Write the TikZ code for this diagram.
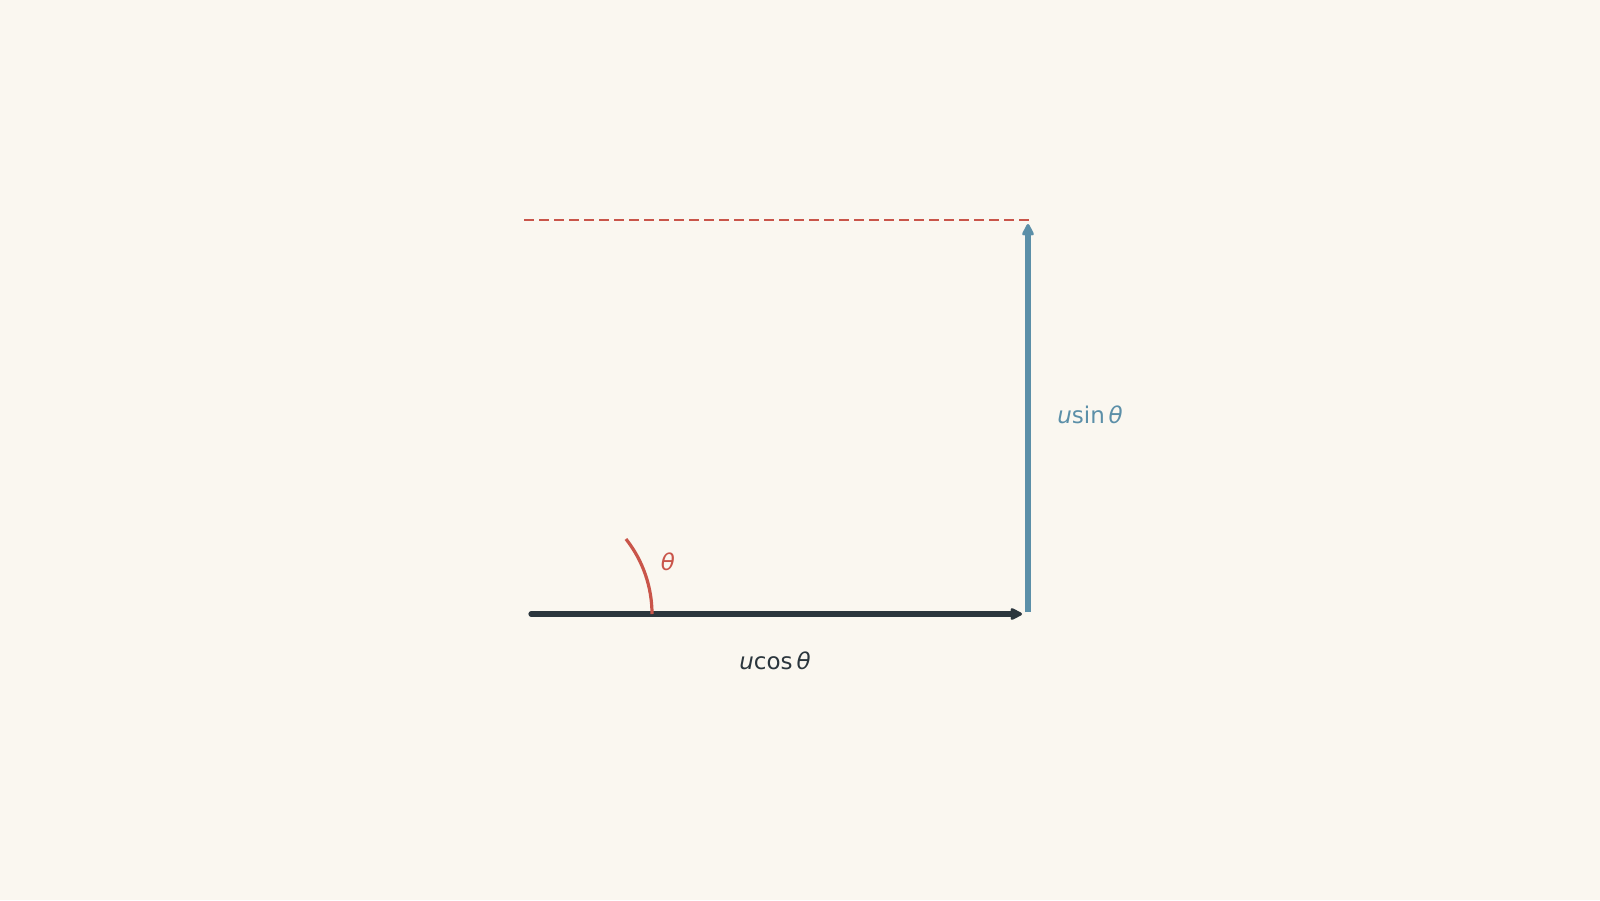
\documentclass[tikz,border=0pt]{standalone}
\usepackage{fontspec}
\setmainfont{DejaVu Sans}
\usetikzlibrary{arrows.meta}
\definecolor{bg}{HTML}{FAF7F0}
\definecolor{ink}{HTML}{2B363D}
\definecolor{redc}{HTML}{C9554A}
\definecolor{bluec}{HTML}{5B8FA8}
\tikzset{
  lbl/.style={font=\fontsize{11.5}{13}\selectfont, inner sep=1pt},
  comp/.style={line width=2.6pt, line cap=round, -{Stealth[round, length=7pt, width=7pt, inset=1pt]}},
}
\begin{document}
\begin{tikzpicture}[x=0.5pt,y=-0.5pt]
\fill[bg] (0,0) rectangle (1600,900);
\useasboundingbox (0,0) rectangle (1600,900);
\coordinate (O) at (531,614);
\coordinate (C) at (1028,612);
\coordinate (E) at (1022,614);
\coordinate (T) at (1028,224);
\coordinate (D) at (524,220);
\coordinate (Tc) at (1028,220);
\draw[redc, line width=1pt, dash pattern=on 5pt off 2.5pt] (D) -- (Tc) -- (T);
\draw[comp, ink] (O) -- (E);
\draw[comp, bluec, line cap=butt] (C) -- (T);
\draw[redc, line width=1.6pt] ([shift={(121,0)}]O) arc[start angle=0, end angle=-38.3, radius=121];
\node[lbl, text=redc] (th) at ([shift={(137,-52)}]O) {\itshape θ};
\node[lbl, text=ink] (hc) at (775,661) {\itshape u\upshape cos\,\itshape θ};
\node[lbl, text=bluec] (vs) at (1090,415) {\itshape u\upshape sin\,\itshape θ};
\end{tikzpicture}
\end{document}
